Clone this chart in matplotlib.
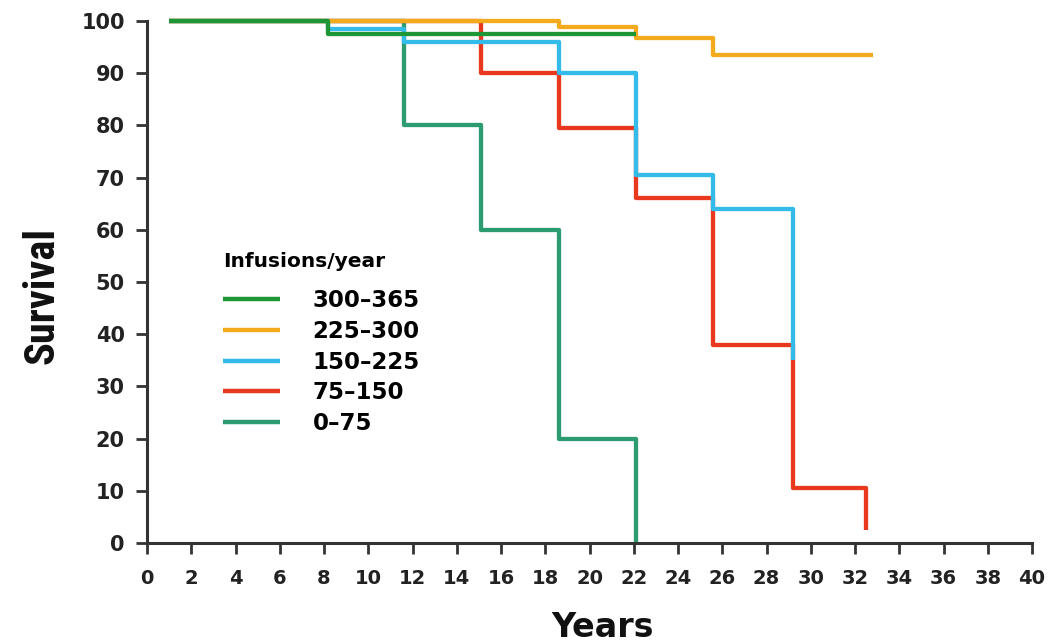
import matplotlib
matplotlib.use("Agg")
import matplotlib.pyplot as plt

# survival step data (years, % survival)
labels = ["300\u2013365", "225\u2013300", "150\u2013225", "75\u2013150", "0\u201375"]
colors = ["#1e9636", "#f3aa1c", "#33bbea", "#e8391f", "#2d9b70"]

t_300 = [1, 8.2, 22.1]
s_300 = [100, 97.5, 97.5]

t_225 = [1, 18.6, 22.1, 25.6, 32.8]
s_225 = [100, 98.8, 96.8, 93.5, 93.5]

t_150 = [1, 8.2, 11.6, 18.6, 22.1, 25.6, 29.2]
s_150 = [100, 98.5, 96, 90, 70.5, 64, 35]

t_75 = [1, 15.1, 18.6, 22.1, 25.6, 29.2, 32.5]
s_75 = [100, 90, 79.5, 66, 38, 10.5, 2.5]

t_0 = [1, 11.6, 15.1, 18.6, 22.1]
s_0 = [100, 80, 60, 20, 0]

series = [(t_300, s_300), (t_225, s_225), (t_150, s_150), (t_75, s_75), (t_0, s_0)]

xticks = list(range(0, 41, 2))
yticks = list(range(0, 101, 10))

wide = "DejaVu Sans"
narrow = ["Roboto Condensed", "DejaVu Sans"]

W, H = 1062, 643
fig = plt.figure(figsize=(W / 100, H / 100), dpi=100)
ax = fig.add_axes([147 / W, 1 - 543 / H, (1032 - 147) / W, (543 - 21) / H])

handles = [None] * len(series)
# draw the lowest-ranked group first so the top group sits on top
for i in reversed(range(len(series))):
    t, s = series[i]
    line, = ax.step(t, s, where="post", color=colors[i], lw=3.1,
                    solid_capstyle="butt", clip_on=False, label=labels[i])
    handles[i] = line

ax.set_xlim(0, 40)
ax.set_ylim(0, 100)
ax.set_xticks(xticks)
ax.set_yticks(yticks)

for side in ["top", "right"]:
    ax.spines[side].set_visible(False)
for side in ["left", "bottom"]:
    ax.spines[side].set_linewidth(2.2)
    ax.spines[side].set_color("#333333")

ax.tick_params(axis="both", length=8, width=2, color="#333333")
ax.tick_params(axis="y", pad=8)
ax.tick_params(axis="x", pad=11)

for lab in ax.get_yticklabels():
    lab.set_family(wide)
    lab.set_fontweight("bold")
    lab.set_fontsize(15)
    lab.set_color("#222222")
for lab in ax.get_xticklabels():
    lab.set_family(wide)
    lab.set_fontweight("bold")
    lab.set_fontsize(14)
    lab.set_color("#222222")

ax.set_ylabel("Survival", family=narrow, fontweight="bold", fontsize=30.5,
              color="#111111")
ax.yaxis.set_label_coords(-0.096, 0.474)
ax.set_xlabel("Years", family=wide, fontweight="bold", fontsize=24,
              color="#111111")
ax.xaxis.set_label_coords(0.515, -0.13)

leg = ax.legend(handles=handles, labels=labels, loc="upper left",
                bbox_to_anchor=(223 / W, 1 - 252 / H),
                bbox_transform=fig.transFigure, frameon=False,
                title="Infusions/year", alignment="left",
                prop={"family": wide, "weight": "bold", "size": 16.5},
                title_fontproperties={"family": wide, "weight": "bold", "size": 14.5},
                handlelength=2.5, handletextpad=1.4, labelspacing=0.34,
                borderpad=0, borderaxespad=0)
leg._legend_box.sep = 13
for h in leg.legend_handles:
    h.set_linewidth(3.2)

fig.savefig("out.png", dpi=100, facecolor="white")
